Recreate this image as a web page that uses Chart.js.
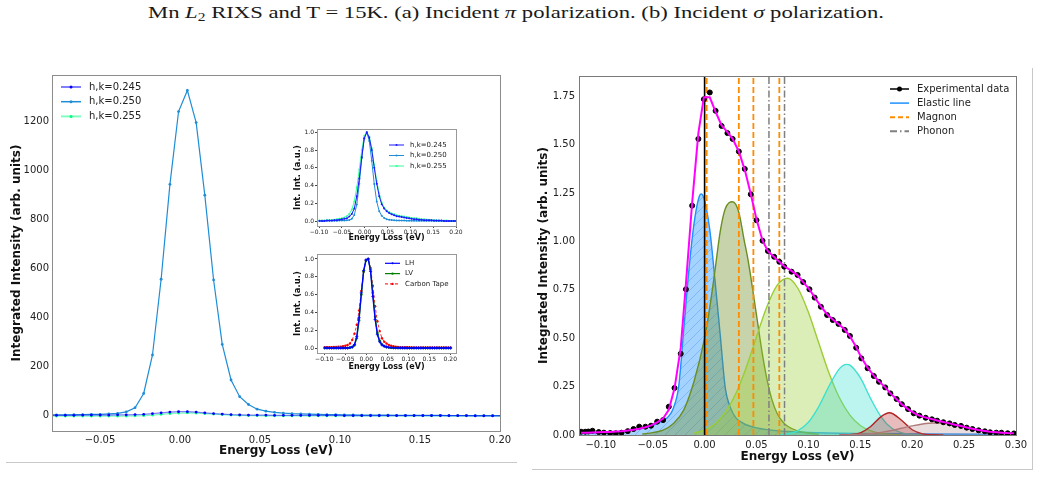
<!DOCTYPE html>
<html>
<head>
<meta charset="utf-8">
<script src="https://cdn.jsdelivr.net/npm/chart.js@4.4.1/dist/chart.umd.min.js"></script>
<style>
  body { margin: 0; background: #fff; width: 1041px; height: 477px; position: relative; overflow: hidden; }
  canvas { position: absolute; }
  #caption { position: absolute; left: 148px; top: 2px; font-family: "Liberation Serif", serif; font-size: 17.5px;
             white-space: nowrap; transform-origin: left top; color: #1a1a1a; }
  #caption sub { font-size: 12px; vertical-align: -3px; line-height: 0; }
  .rule { position: absolute; background: #c8c8c8; }
</style>
</head>
<body>
<div id="caption">Mn <i>L</i><sub>2</sub> RIXS and T = 15K. (a) Incident <i>π</i> polarization. (b) Incident <i>σ</i> polarization.</div>
<div class="rule" style="left:6px;top:462px;width:511px;height:1px"></div>
<div class="rule" style="left:1032px;top:68px;width:1px;height:402px"></div>
<div class="rule" style="left:532px;top:469px;width:501px;height:1px"></div>

<canvas id="panelA" width="520" height="410" style="left:0;top:60px"></canvas>
<canvas id="insetHK" width="180" height="124" style="left:285px;top:122px"></canvas>
<canvas id="insetPol" width="180" height="126" style="left:285px;top:247px"></canvas>
<canvas id="panelB" width="511" height="410" style="left:530px;top:60px"></canvas>

<script>
// ---------- panel (a): integrated intensity vs energy loss for three h,k ----------
const energyHK = [-0.0990, -0.0935, -0.0881, -0.0826, -0.0772, -0.0717, -0.0663, -0.0608, -0.0554, -0.0499,
  -0.0445, -0.0390, -0.0336, -0.0281, -0.0227, -0.0172, -0.0118, -0.0063, -0.0009, 0.0046,
  0.0101, 0.0155, 0.0210, 0.0264, 0.0319, 0.0373, 0.0428, 0.0482, 0.0537, 0.0591,
  0.0646, 0.0700, 0.0755, 0.0809, 0.0864, 0.0918, 0.0973, 0.1027, 0.1082, 0.1136,
  0.1191, 0.1245, 0.1300, 0.1354, 0.1409, 0.1463, 0.1518, 0.1572, 0.1627, 0.1681,
  0.1736, 0.1790, 0.1845, 0.1899, 0.1954, 0.2008];

const hk245 = [2, 2, 2, 2, 2, 2, 2, 3, 3, 3,
  3, 4, 4, 5, 6, 9, 12, 15, 17, 17,
  15, 12, 9, 7, 5, 4, 3, 3, 3, 2,
  2, 2, 2, 2, 2, 2, 2, 1, 1, 1,
  1, 1, 1, 1, 1, 1, 1, 1, 1, 1,
  1, 1, 0, 0, 0, 0];
const hk250 = [3, 3, 4, 4, 4, 4, 5, 5, 6, 6,
  8, 10, 16, 33, 91, 248, 557, 944, 1241, 1327,
  1196, 900, 554, 291, 146, 78, 46, 27, 19, 14,
  11, 9, 8, 7, 6, 5, 5, 4, 4, 3,
  3, 3, 3, 2, 2, 2, 2, 2, 2, 1,
  1, 1, 1, 1, 1, 1];
const hk255 = [-1, -1, -1, -1, -1, -1, -1, -1, -1, -1,
  -1, -1, -1, 0, 1, 3, 6, 9, 11, 12,
  11, 9, 7, 5, 3, 2, 1, 1, 0, 0,
  0, 0, 0, 0, 0, 0, 0, 0, 0, 0,
  0, 0, 0, 0, 0, 0, 0, 0, 0, 0,
  0, 0, 0, 0, 0, 0];

// normalised curves for the first inset
const norm245 = [0, 0, 0, 0.005, 0.005, 0.005, 0.01, 0.01, 0.015, 0.02,
  0.025, 0.03, 0.05, 0.08, 0.14, 0.28, 0.48, 0.72, 0.93, 1.0,
  0.94, 0.80, 0.60, 0.42, 0.28, 0.19, 0.14, 0.11, 0.09, 0.075,
  0.065, 0.055, 0.05, 0.045, 0.04, 0.035, 0.03, 0.025, 0.02, 0.02,
  0.015, 0.015, 0.01, 0.01, 0.01, 0.01, 0.005, 0.005, 0.005, 0.005,
  0, 0, 0, 0, 0, 0];
const norm250 = [0.002, 0.002, 0.003, 0.003, 0.003, 0.003, 0.004, 0.004, 0.005, 0.005,
  0.006, 0.008, 0.012, 0.025, 0.069, 0.187, 0.420, 0.711, 0.935, 1.0,
  0.901, 0.678, 0.417, 0.219, 0.110, 0.059, 0.035, 0.020, 0.014, 0.011,
  0.008, 0.007, 0.006, 0.005, 0.005, 0.004, 0.004, 0.003, 0.003, 0.002,
  0.002, 0.002, 0.002, 0.002, 0.002, 0.002, 0.001, 0.001, 0.001, 0.001,
  0.001, 0.001, 0.001, 0.001, 0.001, 0.001];
const norm255 = [0.005, 0.005, 0.005, 0.01, 0.01, 0.01, 0.015, 0.02, 0.025, 0.03,
  0.04, 0.055, 0.08, 0.13, 0.22, 0.38, 0.58, 0.80, 0.96, 1.0,
  0.95, 0.82, 0.63, 0.45, 0.31, 0.21, 0.15, 0.12, 0.10, 0.085,
  0.075, 0.065, 0.06, 0.055, 0.05, 0.045, 0.04, 0.035, 0.03, 0.03,
  0.025, 0.02, 0.02, 0.015, 0.015, 0.01, 0.01, 0.01, 0.005, 0.005,
  0.005, 0.005, 0, 0, 0, 0];

// second inset: polarisation / reference
const polLH = [0, 0, 0, 0, 0, 0, 0, 0, 0, 0,
  0, 0.005, 0.01, 0.04, 0.13, 0.34, 0.62, 0.87, 0.99, 1.0,
  0.86, 0.58, 0.32, 0.15, 0.07, 0.035, 0.02, 0.012, 0.008, 0.005,
  0.003, 0.002, 0.002, 0.001, 0.001, 0, 0, 0, 0, 0,
  0, 0, 0, 0, 0, 0, 0, 0, 0, 0,
  0, 0, 0, 0, 0, 0];
const polLV = [0, 0, 0, 0, 0, 0, 0, 0, 0, 0,
  0, 0.004, 0.01, 0.03, 0.11, 0.31, 0.60, 0.86, 0.98, 1.0,
  0.88, 0.62, 0.35, 0.17, 0.08, 0.04, 0.02, 0.01, 0.005, 0.003,
  0.002, 0.002, 0.001, 0.001, 0, 0, 0, 0, 0, 0,
  0, 0, 0, 0, 0, 0, 0, 0, 0, 0,
  0, 0, 0, 0, 0, 0];
const carbonTape = [0.01, 0.01, 0.01, 0.01, 0.012, 0.012, 0.014, 0.016, 0.02, 0.025,
  0.035, 0.05, 0.09, 0.16, 0.26, 0.42, 0.64, 0.86, 0.98, 1.0,
  0.90, 0.70, 0.47, 0.30, 0.19, 0.11, 0.07, 0.05, 0.035, 0.025,
  0.02, 0.015, 0.012, 0.01, 0.01, 0.01, 0.008, 0.008, 0.007, 0.007,
  0.006, 0.006, 0.005, 0.005, 0.005, 0.005, 0.005, 0.005, 0.005, 0.005,
  0.005, 0.005, 0.005, 0.005, 0.005, 0.005];

// ---------- panel (b): fitted spectrum ----------
const expEnergy = [-0.119, -0.115, -0.112, -0.108, -0.102, -0.097, -0.091, -0.0855, -0.080, -0.074,
  -0.0685, -0.063, -0.057, -0.0516, -0.0457, -0.040, -0.0345, -0.029, -0.023, -0.018,
  -0.012, -0.006, -0.0007, 0.005, 0.0106, 0.0164, 0.022, 0.027, 0.033, 0.0387,
  0.0445, 0.050, 0.0558, 0.061, 0.067, 0.072, 0.0767, 0.0838, 0.0896, 0.095,
  0.101, 0.106, 0.112, 0.118, 0.1235, 0.129, 0.135, 0.140, 0.146, 0.151,
  0.157, 0.163, 0.168, 0.174, 0.179, 0.185, 0.190, 0.196, 0.2015, 0.207,
  0.213, 0.219, 0.224, 0.230, 0.236, 0.241, 0.247, 0.2525, 0.258, 0.264,
  0.270, 0.275, 0.281, 0.286, 0.292, 0.298];
const expIntensity = [0.017, 0.017, 0.018, 0.022, 0.015, 0.012, 0.010, 0.009, 0.012, 0.020,
  0.031, 0.043, 0.043, 0.048, 0.069, 0.077, 0.146, 0.243, 0.420, 0.753,
  1.185, 1.530, 1.735, 1.770, 1.675, 1.597, 1.560, 1.530, 1.465, 1.375,
  1.244, 1.110, 1.004, 0.951, 0.921, 0.895, 0.870, 0.844, 0.827, 0.790,
  0.753, 0.710, 0.663, 0.620, 0.594, 0.574, 0.543, 0.512, 0.451, 0.396,
  0.345, 0.305, 0.275, 0.246, 0.215, 0.186, 0.159, 0.134, 0.112, 0.100,
  0.089, 0.081, 0.074, 0.066, 0.060, 0.052, 0.047, 0.038, 0.031, 0.024,
  0.019, 0.014, 0.012, 0.012, 0.009, 0.008];
const fitIntensity = [0.012, 0.012, 0.012, 0.013, 0.014, 0.015, 0.016, 0.018, 0.020, 0.023,
  0.027, 0.032, 0.040, 0.050, 0.065, 0.085, 0.130, 0.240, 0.450, 0.780,
  1.200, 1.560, 1.745, 1.745, 1.670, 1.600, 1.565, 1.530, 1.465, 1.370,
  1.245, 1.115, 1.005, 0.950, 0.920, 0.895, 0.872, 0.848, 0.825, 0.790,
  0.752, 0.712, 0.665, 0.624, 0.597, 0.574, 0.545, 0.510, 0.455, 0.400,
  0.348, 0.307, 0.277, 0.246, 0.215, 0.185, 0.158, 0.134, 0.114, 0.100,
  0.090, 0.082, 0.075, 0.067, 0.060, 0.053, 0.046, 0.039, 0.032, 0.026,
  0.021, 0.017, 0.014, 0.012, 0.010, 0.009];

const elasticE = [-0.12, -0.10, -0.09, -0.08, -0.07, -0.06, -0.05, -0.045, -0.04, -0.035,
  -0.03, -0.025, -0.02, -0.015, -0.01, -0.005, -0.003, 0.0, 0.005, 0.01,
  0.015, 0.02, 0.025, 0.03, 0.035, 0.04, 0.05, 0.06, 0.08, 0.10,
  0.15, 0.20, 0.30];
const elasticI = [0.008, 0.012, 0.015, 0.019, 0.025, 0.034, 0.050, 0.060, 0.075, 0.095,
  0.14, 0.25, 0.55, 0.86, 1.10, 1.235, 1.245, 1.21, 1.06, 0.80,
  0.52, 0.24, 0.14, 0.09, 0.068, 0.053, 0.037, 0.028, 0.018, 0.013,
  0.008, 0.006, 0.004];
const oliveE = [-0.06, -0.05, -0.04, -0.03, -0.02, -0.01, 0.0, 0.005, 0.01, 0.015,
  0.02, 0.027, 0.033, 0.038, 0.042, 0.05, 0.055, 0.06, 0.065, 0.07,
  0.075, 0.08, 0.09, 0.10, 0.11];
const oliveI = [0.005, 0.012, 0.025, 0.06, 0.13, 0.28, 0.50, 0.66, 0.85, 1.05,
  1.17, 1.205, 1.15, 1.01, 0.90, 0.62, 0.44, 0.29, 0.18, 0.11,
  0.07, 0.045, 0.02, 0.01, 0.004];
const greenE = [-0.01, 0.0, 0.01, 0.02, 0.03, 0.04, 0.05, 0.06, 0.07, 0.08,
  0.09, 0.10, 0.11, 0.12, 0.13, 0.14, 0.15, 0.16, 0.17, 0.18, 0.19];
const greenI = [0.010, 0.025, 0.057, 0.117, 0.213, 0.348, 0.508, 0.663, 0.774, 0.81,
  0.757, 0.634, 0.475, 0.318, 0.191, 0.103, 0.049, 0.021, 0.008, 0.003, 0.001];
const cyanE = [0.07, 0.08, 0.09, 0.10, 0.11, 0.12, 0.13, 0.137, 0.14, 0.15,
  0.16, 0.17, 0.18, 0.19, 0.20, 0.21];
const cyanI = [0.001, 0.006, 0.023, 0.066, 0.147, 0.254, 0.343, 0.365, 0.361, 0.296,
  0.188, 0.094, 0.036, 0.011, 0.003, 0.001];
const redE = [0.13, 0.14, 0.15, 0.16, 0.17, 0.178, 0.19, 0.20, 0.21, 0.22, 0.23];
const redI = [0.0, 0.002, 0.011, 0.044, 0.095, 0.115, 0.075, 0.027, 0.006, 0.001, 0.0];
const brownE = [0.13, 0.14, 0.15, 0.16, 0.17, 0.18, 0.19, 0.20, 0.21, 0.22,
  0.23, 0.24, 0.25, 0.26, 0.27, 0.28, 0.29, 0.30];
const brownI = [0.0005, 0.0015, 0.0035, 0.0073, 0.0138, 0.023, 0.035, 0.047, 0.057, 0.062,
  0.060, 0.052, 0.040, 0.028, 0.017, 0.0096, 0.0048, 0.002];

const elasticLine = [0.0];
const magnonLines = [0.002, 0.033, 0.047, 0.072];
const phononLines = [0.062, 0.077];

// tick positions
const ticksAx = [-0.05, 0, 0.05, 0.1, 0.15, 0.2];
const ticksAy = [0, 200, 400, 600, 800, 1000, 1200];
const ticksInsetX = [-0.1, -0.05, 0, 0.05, 0.1, 0.15, 0.2];
const ticksInsetY = [0, 0.2, 0.4, 0.6, 0.8, 1.0];
const ticksBx = [-0.1, -0.05, 0, 0.05, 0.1, 0.15, 0.2, 0.25, 0.3];
const ticksBy = [0, 0.25, 0.5, 0.75, 1.0, 1.25, 1.5, 1.75];
const yMaxB = 1.855;

Chart.defaults.font.family = "DejaVu Sans";
Chart.defaults.color = "#222";

const toPoints = (xs, ys) => xs.map((x, i) => ({ x: x, y: ys[i] }));
const fmt = (dec) => (v) => (v < 0 ? "\u2212" : "") + Math.abs(v).toFixed(dec);
const fixedTicks = (values) => (scale) => { scale.ticks = values.map((v) => ({ value: v })); };

// axes frame drawn on top, like matplotlib spines
const framePlugin = {
  id: "frame",
  afterDatasetsDraw(chart, args, opts) {
    const a = chart.chartArea, ctx = chart.ctx;
    ctx.save();
    ctx.strokeStyle = opts.color || "#888";
    ctx.lineWidth = 1;
    ctx.strokeRect(Math.round(a.left) + 0.5, Math.round(a.top) + 0.5,
      Math.round(a.right - a.left), Math.round(a.bottom - a.top));
    ctx.restore();
  },
};

// line + marker legend, matplotlib style
const lineLegend = {
  id: "lineLegend",
  afterDraw(chart, args, opts) {
    if (!opts.items) return;
    const ctx = chart.ctx;
    ctx.save();
    ctx.font = opts.font;
    ctx.textBaseline = "middle";
    opts.items.forEach((it, i) => {
      const y = opts.y + i * opts.rowH;
      ctx.strokeStyle = it.color;
      ctx.lineWidth = it.width;
      ctx.setLineDash(it.dash || []);
      ctx.beginPath();
      ctx.moveTo(opts.x, y);
      ctx.lineTo(opts.x + opts.lineW, y);
      ctx.stroke();
      ctx.setLineDash([]);
      if (it.marker) {
        const cx = opts.x + opts.lineW / 2;
        ctx.fillStyle = it.marker;
        ctx.beginPath();
        ctx.arc(cx, y, it.markerSize || 1.5, 0, Math.PI * 2);
        ctx.fill();
      }
      ctx.fillStyle = "#222";
      ctx.fillText(it.label, opts.x + opts.lineW + opts.gap, y);
    });
    ctx.restore();
  },
};

function series(label, xs, ys, line, point, extra) {
  return Object.assign({
    label: label,
    data: toPoints(xs, ys),
    borderColor: line,
    backgroundColor: point,
    pointBackgroundColor: point,
    pointBorderColor: point,
    borderWidth: 1.2,
    pointRadius: 1.4,
    pointBorderWidth: 0,
    tension: 0,
    fill: false,
  }, extra || {});
}

function axis(min, max, values, dec, fontSize, pad, opts) {
  return Object.assign({
    type: "linear",
    min: min,
    max: max,
    afterBuildTicks: fixedTicks(values),
    ticks: { callback: fmt(dec), font: { size: fontSize }, padding: pad, maxRotation: 0, autoSkip: false, color: "#222" },
    grid: { display: false, drawTicks: false },
    border: { display: false },
  }, opts);
}

const baseOptions = {
  responsive: false,
  animation: false,
  events: [],
  plugins: { legend: { display: false }, tooltip: { enabled: false } },
};

// ---------- panel (a) ----------
new Chart(document.getElementById("panelA"), {
  type: "line",
  data: {
    datasets: [
      series("h,k=0.245", energyHK, hk245, "rgba(0,0,255,0.5)", "#0000ff"),
      series("h,k=0.250", energyHK, hk250, "#1f8dd6", "#1f8dd6"),
      series("h,k=0.255", energyHK, hk255, "rgba(0,255,127,0.5)", "#00ff7f"),
    ],
  },
  options: Object.assign({}, baseOptions, {
    layout: { padding: { top: 15, right: 20, bottom: 7, left: 0 } },
    scales: {
      x: axis(-0.08, 0.2, ticksAx, 2, 10, 3, {
        title: { display: true, text: "Energy Loss (eV)", font: { size: 12, weight: "bold" }, padding: { top: 0, bottom: 5 }, color: "#111" },
        afterFit: (s) => { s.height = 32; },
      }),
      y: axis(-62, 1390, ticksAy, 0, 10, 3, {
        title: { display: true, text: "Integrated Intensity (arb. units)", font: { size: 12, weight: "bold" }, padding: { top: 10, bottom: 0 }, color: "#111" },
        afterFit: (s) => { s.width = 52; },
      }),
    },
    plugins: Object.assign({}, baseOptions.plugins, {
      frame: { color: "#8c8c8c" },
      lineLegend: {
        x: 61, y: 27, rowH: 14.7, lineW: 20, gap: 8, font: "10px 'DejaVu Sans'",
        items: [
          { label: "h,k=0.245", color: "rgba(0,0,255,0.5)", width: 2, marker: "#0000ff" },
          { label: "h,k=0.250", color: "#1f8dd6", width: 1.5, marker: "#1f8dd6" },
          { label: "h,k=0.255", color: "rgba(0,255,127,0.5)", width: 2, marker: "#00ff7f" },
        ],
      },
    }),
  }),
  plugins: [framePlugin, lineLegend],
});

// ---------- insets ----------
function inset(id, datasets, xMin, xMax, yMin, yMax, padding, xH, legend) {
  const insetTick = { display: true, drawOnChartArea: false, drawTicks: true, tickLength: 2, color: "#444" };
  new Chart(document.getElementById(id), {
    type: "line",
    data: { datasets: datasets },
    options: Object.assign({}, baseOptions, {
      layout: { padding: padding },
      scales: {
        x: axis(xMin, xMax, ticksInsetX, 2, 6, 1, {
          grid: insetTick,
          title: { display: true, text: "Energy Loss (eV)", font: { size: 8, weight: "bold" }, padding: { top: 0, bottom: 1 }, color: "#111" },
          afterFit: (s) => { s.height = xH; },
        }),
        y: axis(yMin, yMax, ticksInsetY, 1, 6, 1, {
          grid: insetTick,
          title: { display: true, text: "Int. Int. (a.u.)", font: { size: 8.5, weight: "bold" }, padding: { top: 8, bottom: 0 }, color: "#111" },
          afterFit: (s) => { s.width = 32; },
        }),
      },
      plugins: Object.assign({}, baseOptions.plugins, { frame: { color: "#999" }, lineLegend: legend }),
    }),
    plugins: [framePlugin, lineLegend],
  });
}

const small = { borderWidth: 1, pointRadius: 1 };
inset("insetHK", [
  series("h,k=0.245", energyHK, norm245, "#1a1aff", "#1a1aff", small),
  series("h,k=0.250", energyHK, norm250, "#1f8dd6", "#1f8dd6", small),
  series("h,k=0.255", energyHK, norm255, "#33ff99", "#33ff99", small),
], -0.1044, 0.2, -0.056, 1.037, { top: 7, right: 9, bottom: 2, left: 0 }, 18, {
  x: 104, y: 23, rowH: 10.5, lineW: 15, gap: 6, font: "7px 'DejaVu Sans'",
  items: [
    { label: "h,k=0.245", color: "#1a1aff", width: 1, marker: "#1a1aff", markerSize: 1 },
    { label: "h,k=0.250", color: "#1f8dd6", width: 1, marker: "#1f8dd6", markerSize: 1 },
    { label: "h,k=0.255", color: "#33ff99", width: 1, marker: "#33ff99", markerSize: 1 },
  ],
});

inset("insetPol", [
  series("LH", energyHK, polLH, "#0000ff", "#0000ff", { borderWidth: 1.3, pointRadius: 1.6, pointStyle: "cross", pointBorderWidth: 0.8 }),
  series("LV", energyHK, polLV, "#008000", "#008000", { borderWidth: 1.3, pointRadius: 1.3 }),
  series("Carbon Tape", energyHK, carbonTape, "#ff3030", "#ff0000", { borderWidth: 1, pointRadius: 1.2, borderDash: [3, 2] }),
], -0.1174, 0.2136, -0.056, 1.056, { top: 7, right: 9, bottom: 0, left: 0 }, 20, {
  x: 100, y: 16.3, rowH: 10.3, lineW: 15, gap: 5, font: "7px 'DejaVu Sans'",
  items: [
    { label: "LH", color: "#0000ff", width: 1.2, marker: "#0000ff", markerSize: 1 },
    { label: "LV", color: "#008000", width: 1.2, marker: "#008000", markerSize: 1.2 },
    { label: "Carbon Tape", color: "#ff3030", width: 1.2, dash: [3, 2], marker: "#ff0000", markerSize: 1.2 },
  ],
});

// ---------- panel (b) ----------
function hatch(base, stroke) {
  const c = document.createElement("canvas");
  c.width = 10; c.height = 10;
  const g = c.getContext("2d");
  g.fillStyle = base;
  g.fillRect(0, 0, 10, 10);
  g.strokeStyle = stroke;
  g.lineWidth = 0.8;
  g.beginPath();
  g.moveTo(0, 10); g.lineTo(10, 0);
  g.moveTo(-2, 2); g.lineTo(2, -2);
  g.moveTo(8, 12); g.lineTo(12, 8);
  g.stroke();
  return g.createPattern(c, "repeat");
}

function component(label, xs, ys, line, fillColor, order) {
  return {
    label: label,
    data: toPoints(xs, ys),
    borderColor: line,
    backgroundColor: fillColor,
    borderWidth: 1.4,
    pointRadius: 0,
    fill: "origin",
    cubicInterpolationMode: "monotone",
    order: order,
  };
}

function vline(energy, color, dash, width, order) {
  return {
    label: "vline",
    data: [{ x: energy, y: 0 }, { x: energy, y: yMaxB }],
    borderColor: color,
    borderDash: dash,
    borderWidth: width,
    pointRadius: 0,
    fill: false,
    order: order,
  };
}

const datasetsB = [
  {
    label: "Fit",
    data: toPoints(expEnergy, fitIntensity),
    borderColor: "#ff00ff",
    borderWidth: 2,
    pointRadius: 0,
    fill: false,
    order: 0,
  },
  {
    label: "Experimental data",
    data: toPoints(expEnergy, expIntensity),
    showLine: false,
    pointRadius: 2.5,
    pointBackgroundColor: "#000",
    pointBorderColor: "#000",
    borderColor: "#000",
    order: 1,
  },
]
  .concat(elasticLine.map((e) => vline(e, "#000", [], 1.6, 2)))
  .concat(magnonLines.map((e) => vline(e, "#ff8c00", [6, 3], 1.8, 3)))
  .concat(phononLines.map((e) => vline(e, "#808080", [7, 2.5, 1.5, 2.5], 1.5, 3)))
  .concat([
    component("Elastic", elasticE, elasticI, "#1e90ff", hatch("rgba(30,144,255,0.4)", "rgba(30,110,230,0.35)"), 9),
    component("Olive", oliveE, oliveI, "#6b8e23", "rgba(107,142,35,0.38)", 8),
    component("Yellowgreen", greenE, greenI, "#9acd32", "rgba(154,205,50,0.35)", 7),
    component("Turquoise", cyanE, cyanI, "#40e0d0", "rgba(64,224,208,0.35)", 6),
    component("Firebrick", redE, redI, "#b22222", "rgba(178,34,34,0.3)", 5),
    component("Rosybrown", brownE, brownI, "#b07a7a", "rgba(160,100,100,0.22)", 4),
  ]);

new Chart(document.getElementById("panelB"), {
  type: "line",
  data: { datasets: datasetsB },
  options: Object.assign({}, baseOptions, {
    layout: { padding: { top: 16, right: 25, bottom: 3, left: 0 } },
    scales: {
      x: axis(-0.121, 0.3, ticksBx, 2, 10, 4, {
        title: { display: true, text: "Energy Loss (eV)", font: { size: 12, weight: "bold" }, padding: { top: 0, bottom: 3 }, color: "#111" },
        afterFit: (s) => { s.height = 32; },
      }),
      y: axis(0, yMaxB, ticksBy, 2, 10, 4, {
        title: { display: true, text: "Integrated Intensity (arb. units)", font: { size: 12, weight: "bold" }, padding: { top: 7, bottom: 0 }, color: "#111" },
        afterFit: (s) => { s.width = 49; },
      }),
    },
    plugins: Object.assign({}, baseOptions.plugins, {
      frame: { color: "#7a7a7a" },
      lineLegend: {
        x: 360, y: 29, rowH: 14.1, lineW: 19, gap: 8, font: "10px 'DejaVu Sans'",
        items: [
          { label: "Experimental data", color: "#000", width: 1.5, marker: "#000", markerSize: 2.5 },
          { label: "Elastic line", color: "#1e90ff", width: 1.5 },
          { label: "Magnon", color: "#ff8c00", width: 2, dash: [5, 3] },
          { label: "Phonon", color: "#808080", width: 2, dash: [7, 3, 1.5, 3] },
        ],
      },
    }),
  }),
  plugins: [framePlugin, lineLegend],
});

// stretch the caption to the width of the original line of text
const cap = document.getElementById("caption");
const capW = cap.getBoundingClientRect().width;
cap.style.transform = "scaleX(" + (736 / capW).toFixed(3) + ")";
</script>
</body>
</html>
